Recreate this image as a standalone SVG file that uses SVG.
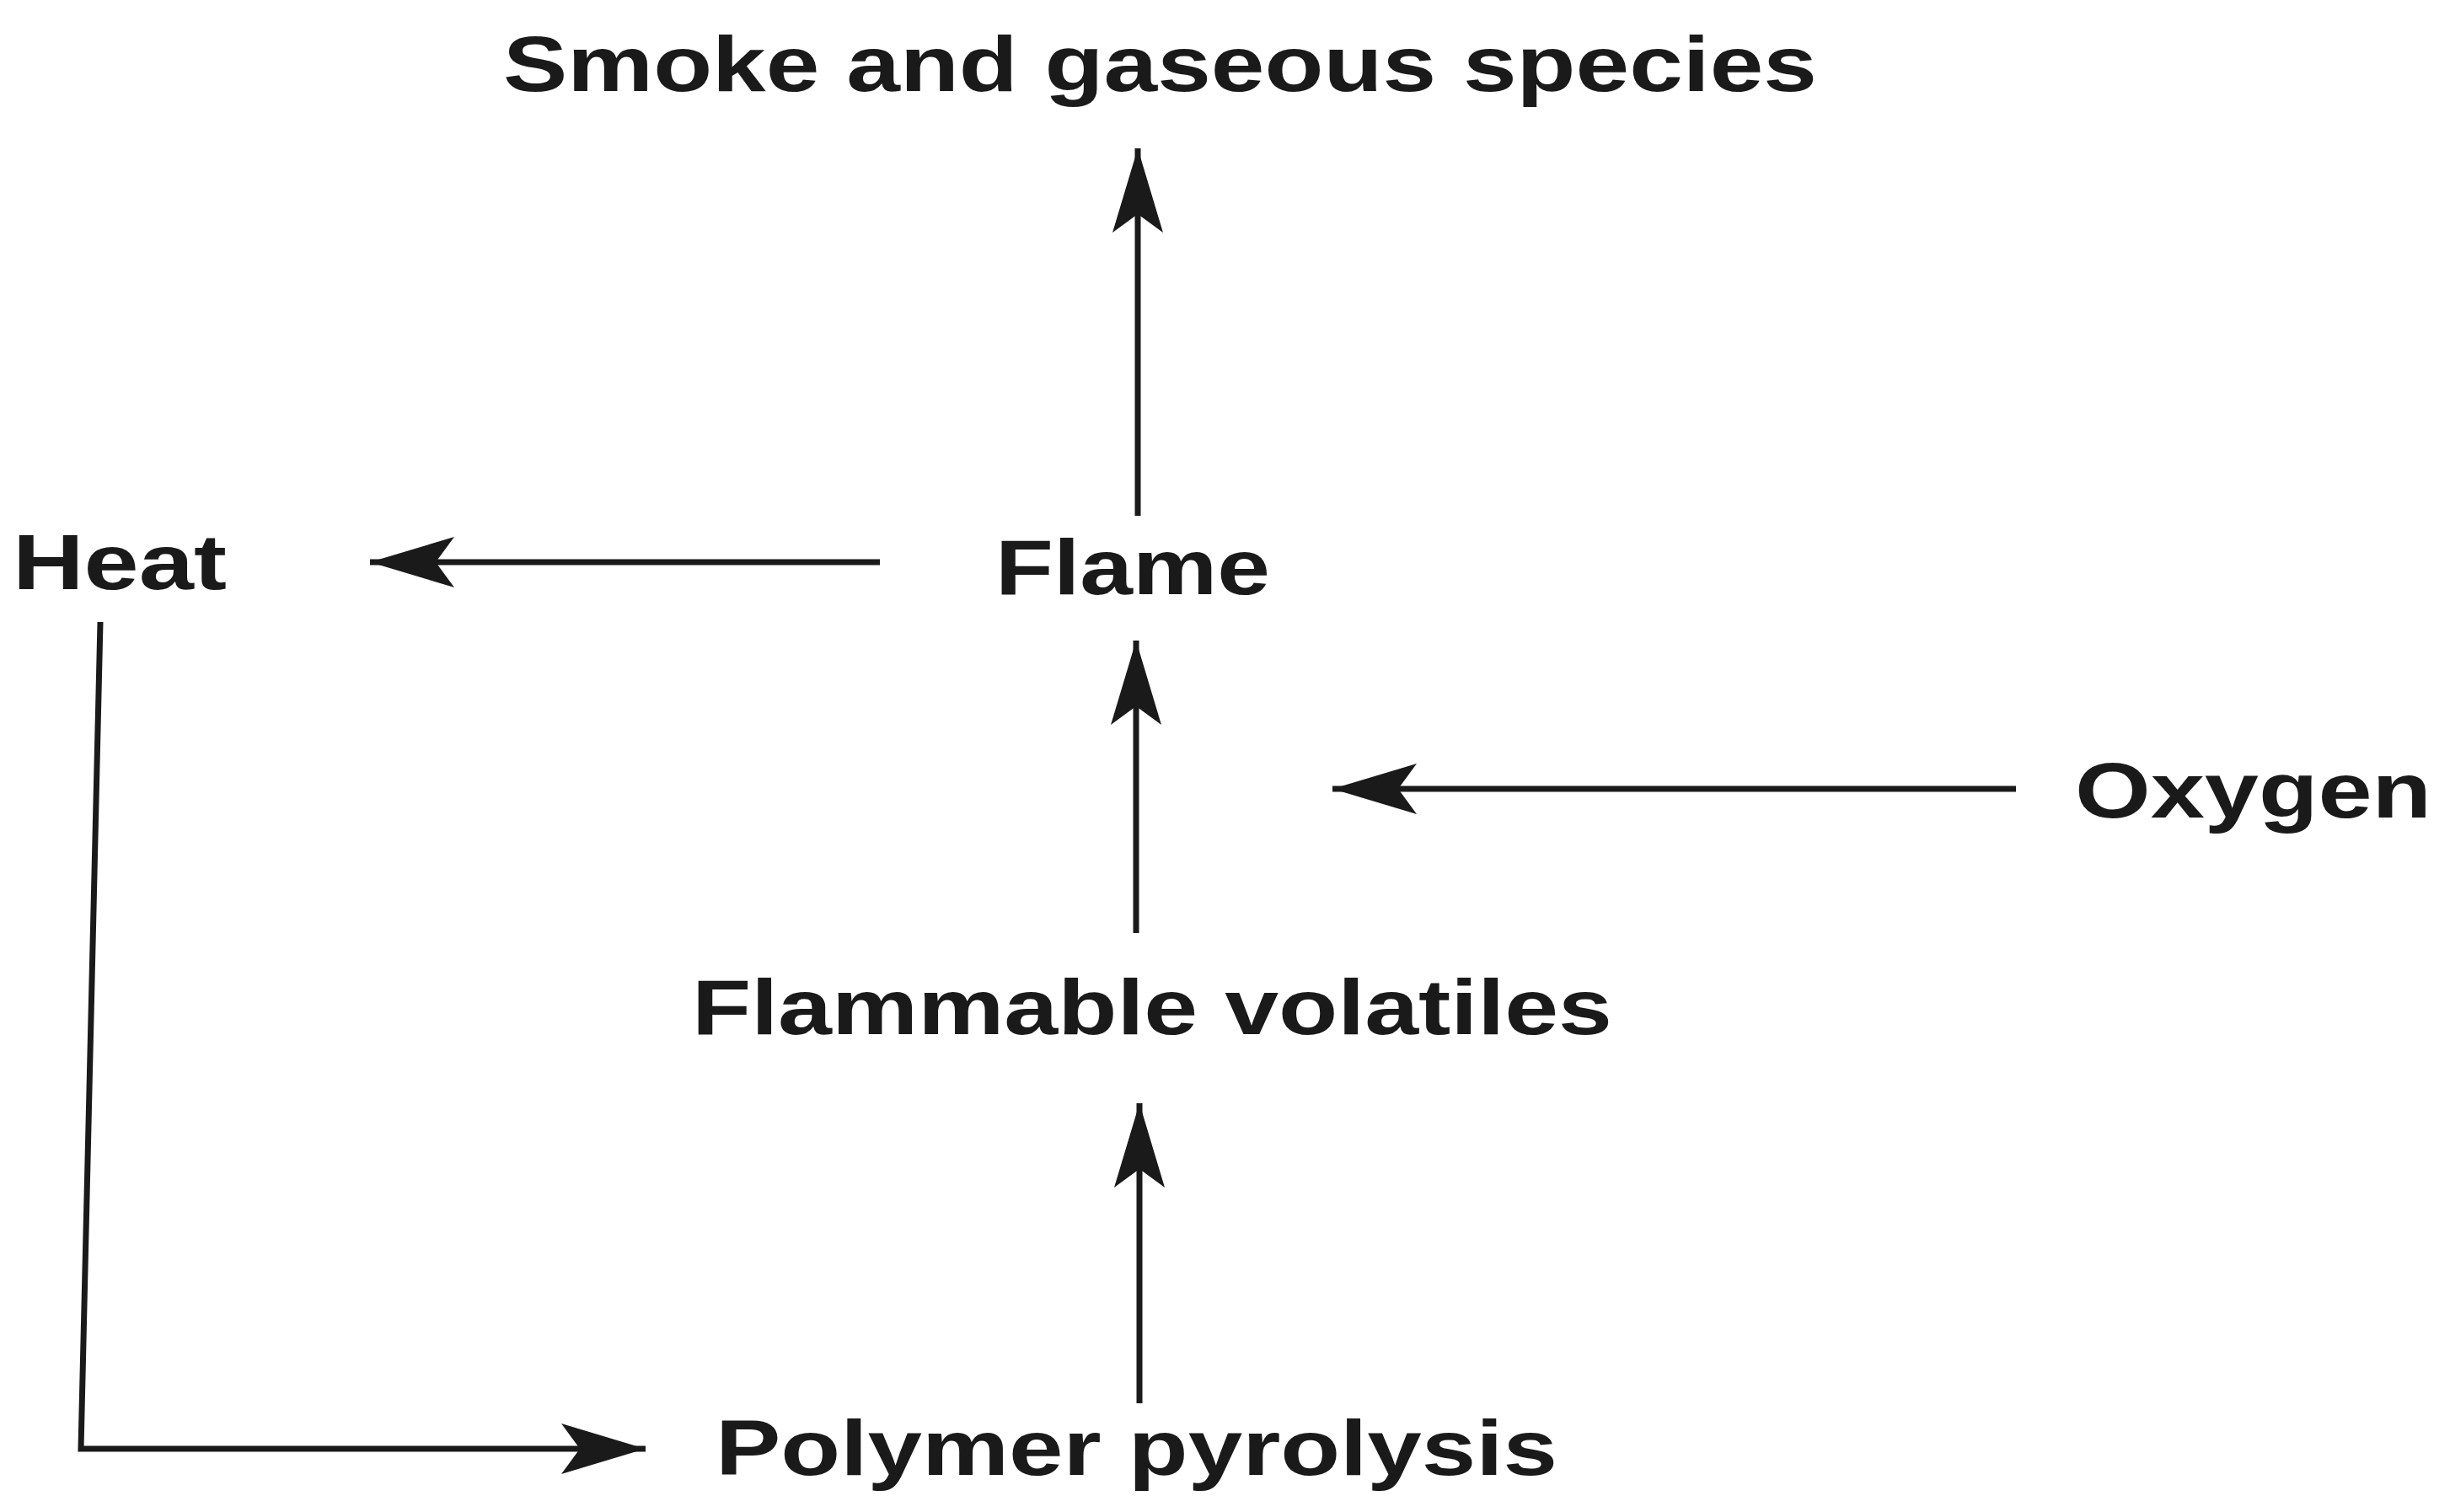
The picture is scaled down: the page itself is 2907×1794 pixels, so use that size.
<svg xmlns="http://www.w3.org/2000/svg" width="2907" height="1794" viewBox="0 0 2907 1794">
<style>
text{font-family:"Liberation Sans",Arial,sans-serif;font-weight:bold;font-size:92px;fill:#1a1a1a}
.c{fill:none;stroke:#1a1a1a;stroke-width:7}
</style>
<defs>
<marker id="a" markerUnits="userSpaceOnUse" markerWidth="110" markerHeight="70" refX="100" refY="35" orient="auto"><path d="M0,5 L100,35 L0,65 L22,35 z" fill="#1a1a1a"/></marker>
</defs>
<rect width="2907" height="1794" fill="#fff"/>
<g id="smoke"><text x="597" y="108" textLength="1559" lengthAdjust="spacingAndGlyphs">Smoke and gaseous species</text></g>
<g id="heat"><text x="15" y="699" textLength="254" lengthAdjust="spacingAndGlyphs">Heat</text></g>
<g id="flame"><text x="1181" y="705" textLength="326" lengthAdjust="spacingAndGlyphs">Flame</text></g>
<g id="oxygen"><text x="2462" y="970" textLength="423" lengthAdjust="spacingAndGlyphs">Oxygen</text></g>
<g id="volatiles"><text x="821" y="1227" textLength="1092" lengthAdjust="spacingAndGlyphs">Flammable volatiles</text></g>
<g id="pyrolysis"><text x="849" y="1750" textLength="999" lengthAdjust="spacingAndGlyphs">Polymer pyrolysis</text></g>
<g id="connectors">
<path class="c" d="M1350,612 L1350,176" marker-end="url(#a)"/>
<path class="c" d="M1044,667 L439,667" marker-end="url(#a)"/>
<path class="c" d="M1348,1107 L1348,760" marker-end="url(#a)"/>
<path class="c" d="M2392,936 L1581,936" marker-end="url(#a)"/>
<path class="c" d="M1352,1665 L1352,1309" marker-end="url(#a)"/>
<path class="c" d="M119,738 L96,1719 L766,1719" marker-end="url(#a)"/>
</g>
</svg>
